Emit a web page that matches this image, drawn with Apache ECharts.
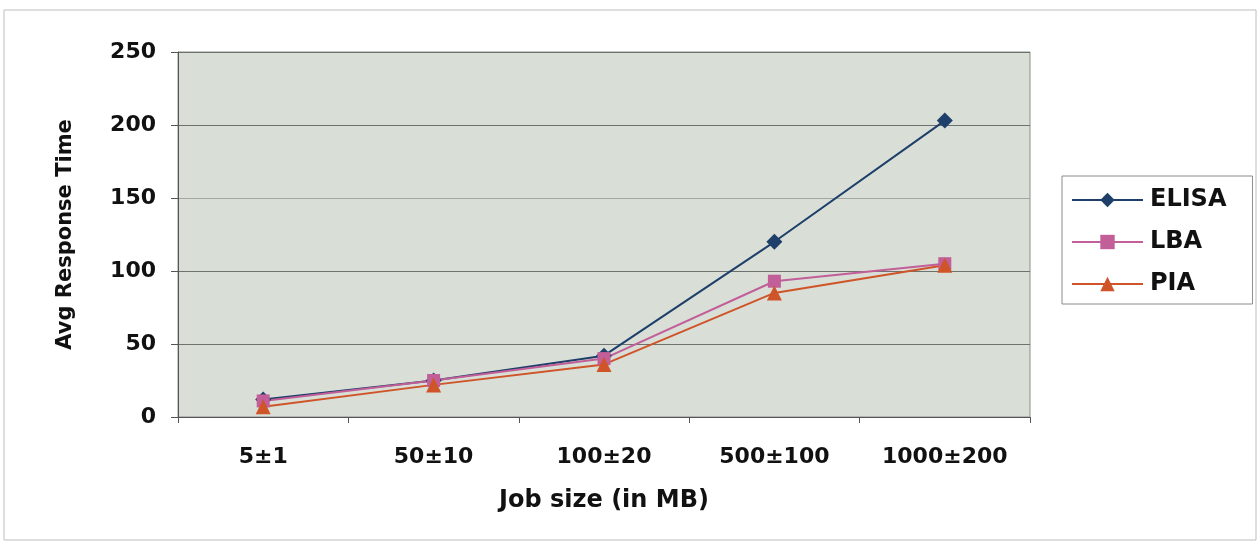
<!DOCTYPE html>
<html>
<head>
<meta charset="utf-8">
<script src="https://cdn.jsdelivr.net/npm/echarts@6/dist/echarts.min.js"></script>
<style>
  html, body { margin: 0; padding: 0; background: #ffffff; }
  #chart { width: 1260px; height: 544px; }
</style>
</head>
<body>
<div id="chart"></div>
<script>
// Job size buckets (MB)
const categories = ['5±1', '50±10', '100±20', '500±100', '1000±200'];

// Average response time per scheduling scheme
const elisa = [12, 25, 42, 120, 203];
const lba   = [11, 25, 40, 93, 105];
const pia   = [7, 22, 36, 85, 104];

const yTicks = { min: 0, max: 250, interval: 50 };

const FONT = '"DejaVu Sans", Verdana, sans-serif';

const chart = echarts.init(document.getElementById('chart'), null, { renderer: 'canvas' });

function lineSeries(name, data, color, symbol, size) {
  return {
    name: name,
    type: 'line',
    data: data,
    symbol: symbol,
    symbolSize: size,
    showAllSymbol: true,
    lineStyle: { color: color, width: 2 },
    itemStyle: { color: color },
    emphasis: { disabled: true },
    z: 3
  };
}

chart.setOption({
  animation: false,
  backgroundColor: '#ffffff',
  graphic: [{
    type: 'rect',
    shape: { x: 4, y: 10, width: 1252, height: 530 },
    style: { fill: 'none', stroke: '#bdbdbd', lineWidth: 1 },
    z: 0
  }],
  grid: {
    left: 178, right: 230, top: 52, bottom: 127,
    show: true,
    backgroundColor: '#d9ded7',
    borderColor: '#8a8f8a',
    borderWidth: 1
  },
  legend: {
    orient: 'vertical',
    left: 1062,
    top: 176,
    padding: [12, 26, 8, 9],
    itemGap: 18,
    itemWidth: 71,
    itemHeight: 18,
    borderColor: '#8c8c8c',
    borderWidth: 1,
    backgroundColor: '#ffffff',
    textStyle: { fontFamily: FONT, fontSize: 24, fontWeight: 'bold', color: '#111111', padding: [0, 0, 0, 2] },
    data: ['ELISA', 'LBA', 'PIA']
  },
  xAxis: {
    type: 'category',
    data: categories,
    boundaryGap: true,
    name: 'Job size (in MB)',
    nameLocation: 'middle',
    nameGap: 72,
    nameTextStyle: { fontFamily: FONT, fontSize: 24, fontWeight: 'bold', color: '#111111' },
    axisLine: { show: true, lineStyle: { color: '#555555', width: 1 } },
    axisTick: { show: true, alignWithLabel: false, length: 6, lineStyle: { color: '#555555' } },
    axisLabel: { fontFamily: FONT, fontSize: 22, fontWeight: 'bold', color: '#111111', margin: 29 },
    splitLine: { show: false }
  },
  yAxis: {
    type: 'value',
    min: yTicks.min,
    max: yTicks.max,
    interval: yTicks.interval,
    name: 'Avg Response Time',
    nameLocation: 'middle',
    nameRotate: 90,
    nameGap: 102,
    nameTextStyle: { fontFamily: FONT, fontSize: 21, fontWeight: 'bold', color: '#111111' },
    axisLine: { show: true, lineStyle: { color: '#555555', width: 1 } },
    axisTick: { show: true, length: 7, lineStyle: { color: '#555555' } },
    axisLabel: { fontFamily: FONT, fontSize: 22, fontWeight: 'bold', color: '#111111', margin: 22 },
    splitLine: {
      show: true,
      lineStyle: {
        color: ['#6e726e', '#6e726e', '#6e726e', '#a3a7a3', '#6e726e', '#6e726e'],
        width: 1,
        type: 'solid'
      }
    }
  },
  series: [
    lineSeries('ELISA', elisa, '#1d3f6a', 'diamond', 16),
    lineSeries('LBA', lba, '#c25e98', 'rect', 13),
    lineSeries('PIA', pia, '#cf5428', 'triangle', 15)
  ]
});
</script>
</body>
</html>
